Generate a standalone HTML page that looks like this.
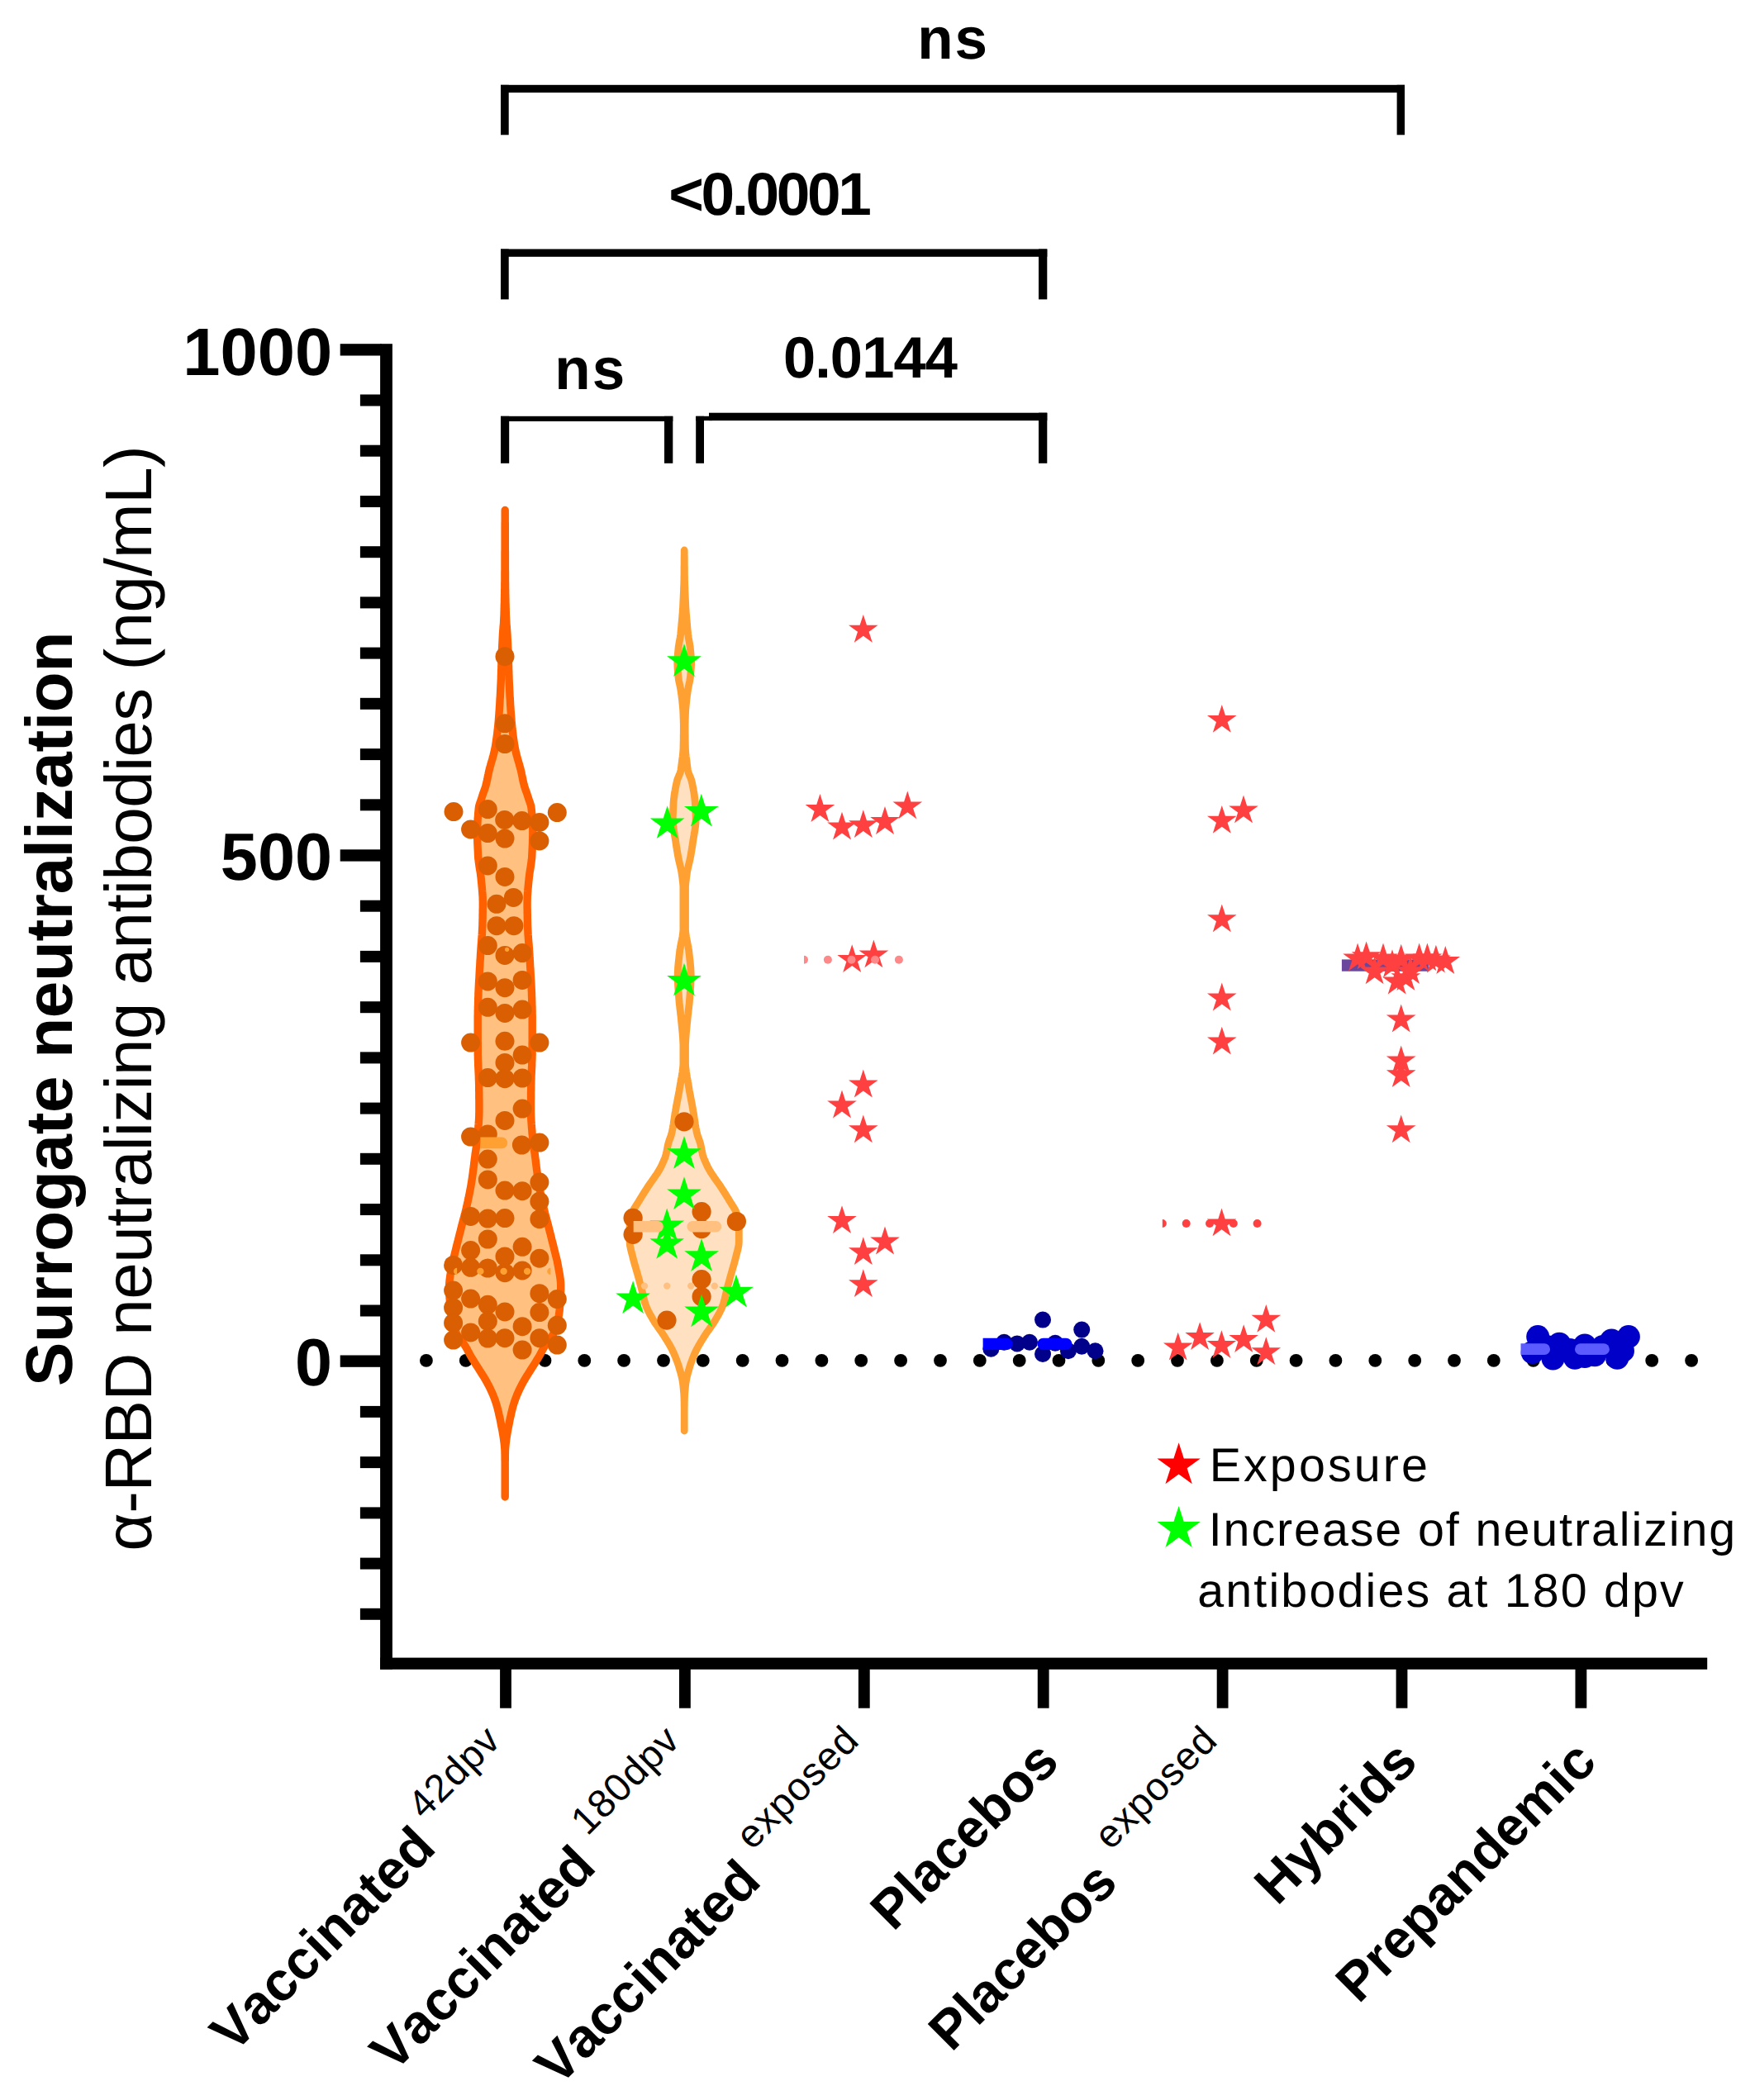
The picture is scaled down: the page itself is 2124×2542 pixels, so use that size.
<!DOCTYPE html>
<html lang="en"><head><meta charset="utf-8"><title>Surrogate neutralization</title>
<style>html,body{margin:0;padding:0;background:#fff;width:2124px;height:2542px;overflow:hidden}svg{display:block}text{font-family:"Liberation Sans", Arial, Helvetica, sans-serif;fill:#000;font-kerning:none;text-rendering:geometricPrecision}</style>
</head><body>
<svg width="2124" height="2542" viewBox="0 0 2124 2542">
<rect width="2124" height="2542" fill="#fff"/>
<circle cx="515.9" cy="1646.9" r="7.9" fill="#000"/>
<circle cx="563.8" cy="1646.9" r="7.9" fill="#000"/>
<circle cx="611.6" cy="1646.9" r="7.9" fill="#000"/>
<circle cx="659.5" cy="1646.9" r="7.9" fill="#000"/>
<circle cx="707.3" cy="1646.9" r="7.9" fill="#000"/>
<circle cx="755.1" cy="1646.9" r="7.9" fill="#000"/>
<circle cx="803.0" cy="1646.9" r="7.9" fill="#000"/>
<circle cx="850.8" cy="1646.9" r="7.9" fill="#000"/>
<circle cx="898.7" cy="1646.9" r="7.9" fill="#000"/>
<circle cx="946.5" cy="1646.9" r="7.9" fill="#000"/>
<circle cx="994.4" cy="1646.9" r="7.9" fill="#000"/>
<circle cx="1042.2" cy="1646.9" r="7.9" fill="#000"/>
<circle cx="1090.1" cy="1646.9" r="7.9" fill="#000"/>
<circle cx="1138.0" cy="1646.9" r="7.9" fill="#000"/>
<circle cx="1185.8" cy="1646.9" r="7.9" fill="#000"/>
<circle cx="1233.7" cy="1646.9" r="7.9" fill="#000"/>
<circle cx="1281.5" cy="1646.9" r="7.9" fill="#000"/>
<circle cx="1329.3" cy="1646.9" r="7.9" fill="#000"/>
<circle cx="1377.2" cy="1646.9" r="7.9" fill="#000"/>
<circle cx="1425.0" cy="1646.9" r="7.9" fill="#000"/>
<circle cx="1472.9" cy="1646.9" r="7.9" fill="#000"/>
<circle cx="1520.8" cy="1646.9" r="7.9" fill="#000"/>
<circle cx="1568.6" cy="1646.9" r="7.9" fill="#000"/>
<circle cx="1616.4" cy="1646.9" r="7.9" fill="#000"/>
<circle cx="1664.3" cy="1646.9" r="7.9" fill="#000"/>
<circle cx="1712.2" cy="1646.9" r="7.9" fill="#000"/>
<circle cx="1760.0" cy="1646.9" r="7.9" fill="#000"/>
<circle cx="1807.8" cy="1646.9" r="7.9" fill="#000"/>
<circle cx="1855.7" cy="1646.9" r="7.9" fill="#000"/>
<circle cx="1903.6" cy="1646.9" r="7.9" fill="#000"/>
<circle cx="1951.4" cy="1646.9" r="7.9" fill="#000"/>
<circle cx="1999.2" cy="1646.9" r="7.9" fill="#000"/>
<circle cx="2047.1" cy="1646.9" r="7.9" fill="#000"/>
<polygon points="611.2,617.5 611.2,619.5 611.2,621.5 611.2,623.5 611.2,625.5 611.2,627.6 611.2,629.6 611.2,631.6 611.1,633.6 611.1,635.6 611.1,637.6 611.1,639.6 611.1,641.6 611.1,643.7 611.1,645.7 611.1,647.7 611.1,649.7 611.1,651.7 611.1,653.7 611.1,655.7 611.1,657.7 611.1,659.8 611.1,661.8 611.1,663.8 611.1,665.8 611.0,667.8 611.0,669.8 611.0,671.8 611.0,673.8 611.0,675.9 611.0,677.9 611.0,679.9 611.0,681.9 611.0,683.9 611.0,685.9 611.0,687.9 611.0,689.9 610.9,692.0 610.9,694.0 610.9,696.0 610.9,698.0 610.9,700.0 610.9,702.0 610.9,704.1 610.8,706.1 610.8,708.2 610.8,710.2 610.8,712.3 610.7,714.3 610.7,716.4 610.7,718.4 610.6,720.5 610.6,722.5 610.5,724.5 610.5,726.6 610.5,728.6 610.4,730.7 610.3,732.7 610.3,734.8 610.2,736.8 610.2,738.9 610.1,740.9 610.1,743.0 610.0,745.0 609.9,747.0 609.8,749.0 609.7,751.0 609.6,753.0 609.5,755.0 609.3,757.0 609.1,759.0 609.0,761.0 608.8,763.0 608.7,765.0 608.5,767.0 608.4,769.0 608.3,771.0 608.2,773.0 608.1,775.0 608.0,777.0 607.9,779.0 607.8,781.0 607.7,783.0 607.6,785.0 607.5,787.0 607.4,789.0 607.4,791.0 607.3,793.0 607.2,795.0 607.1,797.0 607.1,799.0 607.0,801.0 606.9,803.0 606.9,805.0 606.8,807.0 606.8,809.0 606.7,811.0 606.6,813.0 606.6,815.0 606.5,817.0 606.4,819.0 606.4,821.0 606.3,823.0 606.2,825.1 606.1,827.2 606.0,829.2 605.9,831.3 605.8,833.4 605.7,835.5 605.6,837.5 605.5,839.6 605.4,841.7 605.3,843.8 605.1,845.8 605.0,847.9 604.9,850.0 604.8,852.0 604.7,854.0 604.5,856.0 604.4,858.0 604.3,860.0 604.1,862.0 604.0,864.0 603.8,866.0 603.7,868.0 603.5,870.0 603.4,872.0 603.2,874.0 603.0,876.0 602.8,878.1 602.6,880.1 602.4,882.2 602.1,884.3 601.9,886.4 601.7,888.4 601.4,890.5 601.1,892.6 600.8,894.6 600.5,896.7 600.2,898.8 599.9,900.9 599.6,902.9 599.2,905.0 598.8,907.0 598.4,909.0 597.9,911.0 597.4,913.0 596.9,915.0 596.3,917.0 595.8,919.0 595.2,921.0 594.6,923.0 594.0,925.0 593.5,927.0 592.9,929.0 592.4,931.0 591.9,933.0 591.4,935.1 591.0,937.2 590.5,939.4 590.1,941.5 589.7,943.6 589.2,945.8 588.7,947.9 588.2,950.0 587.6,952.1 586.9,954.3 586.2,956.4 585.4,958.6 584.6,960.7 583.9,962.9 583.2,965.0 582.5,967.3 581.7,969.5 580.9,971.8 580.2,974.1 579.6,976.3 579.3,978.6 579.1,980.6 578.9,982.7 578.7,984.7 578.6,986.7 578.4,988.7 578.2,990.8 578.1,992.8 578.0,994.8 577.9,996.9 577.8,998.9 577.7,1000.9 577.6,1002.9 577.6,1005.0 577.6,1007.0 577.6,1009.0 577.6,1011.1 577.7,1013.1 577.7,1015.2 577.8,1017.2 577.8,1019.3 577.9,1021.4 578.0,1023.4 578.1,1025.5 578.2,1027.5 578.3,1029.5 578.4,1031.6 578.5,1033.7 578.6,1035.7 578.7,1037.7 578.9,1039.8 579.2,1041.8 579.4,1043.9 579.7,1045.9 580.0,1048.0 580.3,1050.0 580.6,1052.0 581.0,1054.1 581.3,1056.1 581.6,1058.2 581.8,1060.2 582.1,1062.3 582.3,1064.3 582.5,1066.3 582.7,1068.4 582.9,1070.4 583.1,1072.5 583.3,1074.5 583.5,1076.6 583.6,1078.6 583.8,1080.6 583.9,1082.7 584.1,1084.7 584.2,1086.8 584.2,1088.8 584.3,1090.9 584.3,1092.9 584.3,1094.9 584.3,1097.0 584.3,1099.0 584.2,1101.0 584.2,1103.1 584.2,1105.1 584.1,1107.2 584.1,1109.2 584.1,1111.2 584.0,1113.3 584.0,1115.3 583.9,1117.3 583.9,1119.4 583.8,1121.4 583.7,1123.4 583.6,1125.5 583.5,1127.5 583.4,1129.6 583.3,1131.6 583.1,1133.7 583.0,1135.7 582.8,1137.7 582.7,1139.8 582.5,1141.8 582.3,1143.9 582.2,1145.9 582.0,1148.0 581.9,1150.0 581.8,1152.0 581.6,1154.1 581.5,1156.1 581.4,1158.2 581.3,1160.2 581.1,1162.3 581.0,1164.3 580.9,1166.3 580.8,1168.4 580.7,1170.4 580.5,1172.5 580.4,1174.5 580.3,1176.6 580.2,1178.6 580.1,1180.6 580.0,1182.7 579.9,1184.7 579.7,1186.7 579.6,1188.7 579.5,1190.8 579.4,1192.8 579.3,1194.8 579.2,1196.9 579.1,1198.9 579.0,1200.9 578.9,1202.9 578.9,1205.0 578.8,1207.0 578.7,1209.0 578.7,1211.1 578.6,1213.2 578.6,1215.2 578.5,1217.2 578.4,1219.3 578.4,1221.3 578.3,1223.4 578.3,1225.5 578.3,1227.5 578.2,1229.5 578.2,1231.6 578.2,1233.7 578.2,1235.7 578.2,1237.8 578.2,1239.8 578.2,1241.9 578.2,1244.0 578.2,1246.0 578.2,1248.1 578.2,1250.2 578.2,1252.2 578.2,1254.3 578.2,1256.4 578.2,1258.4 578.2,1260.5 578.3,1262.6 578.3,1264.6 578.3,1266.7 578.3,1268.8 578.3,1270.8 578.3,1272.9 578.3,1274.9 578.3,1277.0 578.4,1279.0 578.4,1281.1 578.5,1283.1 578.6,1285.1 578.7,1287.2 578.7,1289.2 578.8,1291.2 578.9,1293.3 579.0,1295.3 579.1,1297.4 579.2,1299.4 579.3,1301.4 579.4,1303.5 579.4,1305.5 579.5,1307.5 579.6,1309.6 579.6,1311.6 579.7,1313.7 579.7,1315.7 579.7,1317.7 579.7,1319.8 579.8,1321.8 579.8,1323.9 579.8,1325.9 579.8,1328.0 579.8,1330.0 579.9,1332.0 579.9,1334.1 579.9,1336.1 579.9,1338.2 579.9,1340.2 579.9,1342.3 579.9,1344.3 579.9,1346.3 579.8,1348.4 579.8,1350.4 579.7,1352.5 579.6,1354.5 579.5,1356.6 579.3,1358.6 579.2,1360.6 579.0,1362.7 578.9,1364.7 578.7,1366.8 578.5,1368.8 578.4,1370.9 578.2,1372.9 578.0,1374.9 577.8,1377.0 577.6,1379.0 577.4,1381.0 577.1,1383.1 576.8,1385.1 576.6,1387.2 576.3,1389.2 576.0,1391.2 575.7,1393.3 575.4,1395.3 575.1,1397.3 574.9,1399.4 574.6,1401.4 574.3,1403.4 574.1,1405.5 573.8,1407.5 573.6,1409.6 573.3,1411.6 573.1,1413.7 572.8,1415.7 572.5,1417.7 572.3,1419.8 572.0,1421.8 571.7,1423.9 571.4,1425.9 571.1,1428.0 570.8,1430.0 570.5,1432.0 570.1,1434.1 569.8,1436.1 569.4,1438.2 569.0,1440.2 568.6,1442.3 568.2,1444.3 567.8,1446.3 567.4,1448.4 567.0,1450.4 566.5,1452.5 566.1,1454.5 565.6,1456.6 565.2,1458.6 564.7,1460.6 564.3,1462.7 563.8,1464.7 563.3,1466.7 562.8,1468.7 562.2,1470.8 561.7,1472.8 561.2,1474.8 560.6,1476.9 560.1,1478.9 559.6,1480.9 559.0,1482.9 558.5,1485.0 558.0,1487.0 557.5,1489.0 557.0,1491.1 556.4,1493.2 555.9,1495.2 555.4,1497.2 554.9,1499.3 554.4,1501.3 553.9,1503.4 553.3,1505.5 552.8,1507.5 552.3,1509.5 551.8,1511.6 551.3,1513.7 550.8,1515.7 550.3,1517.7 549.8,1519.8 549.2,1521.8 548.7,1523.9 548.2,1525.9 547.8,1528.0 547.4,1530.0 547.0,1532.1 546.6,1534.2 546.3,1536.2 545.9,1538.3 545.5,1540.4 545.1,1542.5 544.8,1544.5 544.5,1546.6 544.2,1548.7 544.0,1550.8 543.8,1552.8 543.7,1554.9 543.7,1557.0 543.7,1559.0 543.7,1561.1 543.8,1563.2 543.9,1565.2 543.9,1567.2 544.0,1569.3 544.1,1571.3 544.3,1573.4 544.4,1575.5 544.5,1577.5 544.7,1579.5 544.9,1581.6 545.0,1583.7 545.2,1585.7 545.4,1587.7 545.7,1589.8 546.0,1591.8 546.4,1593.9 546.8,1595.9 547.3,1598.0 547.9,1600.0 548.4,1602.0 549.1,1604.1 549.7,1606.1 550.4,1608.2 551.1,1610.2 551.8,1612.3 552.6,1614.3 553.6,1616.3 554.9,1618.4 556.4,1620.4 558.0,1622.5 559.6,1624.5 561.2,1626.6 562.6,1628.6 563.8,1630.6 565.0,1632.7 566.1,1634.7 567.1,1636.8 568.2,1638.8 569.3,1640.9 570.5,1642.9 571.7,1644.9 573.0,1646.9 574.2,1648.9 575.5,1651.0 576.8,1653.0 578.1,1655.0 579.4,1657.0 580.7,1659.1 582.0,1661.1 583.3,1663.2 584.6,1665.2 585.9,1667.3 587.1,1669.3 588.3,1671.4 589.4,1673.4 590.5,1675.5 591.6,1677.5 592.6,1679.6 593.6,1681.6 594.6,1683.7 595.5,1685.7 596.4,1687.7 597.2,1689.8 598.0,1691.8 598.8,1693.9 599.5,1695.9 600.2,1698.0 600.8,1700.0 601.4,1702.0 602.0,1704.1 602.5,1706.1 603.0,1708.2 603.5,1710.2 603.9,1712.3 604.4,1714.3 604.9,1716.3 605.3,1718.4 605.7,1720.4 606.1,1722.5 606.5,1724.5 606.9,1726.6 607.3,1728.6 607.7,1730.6 608.1,1732.7 608.4,1734.7 608.8,1736.8 609.1,1738.8 609.4,1740.9 609.7,1742.9 609.9,1744.9 610.2,1746.9 610.4,1748.9 610.6,1751.0 610.8,1753.0 610.9,1755.0 611.0,1757.0 611.0,1759.1 611.1,1761.2 611.1,1763.3 611.1,1765.4 611.1,1767.5 611.2,1769.5 611.2,1771.6 611.2,1773.7 611.2,1775.8 611.2,1777.9 611.2,1780.0 611.2,1782.0 611.2,1784.0 611.2,1786.0 611.2,1788.0 611.2,1790.0 611.2,1792.0 611.2,1794.0 611.2,1796.0 611.2,1798.0 611.2,1800.0 611.2,1802.0 611.2,1804.0 611.2,1806.0 611.2,1808.0 611.2,1810.0 611.2,1812.0 611.2,1812.0 611.2,1810.0 611.2,1808.0 611.2,1806.0 611.2,1804.0 611.2,1802.0 611.2,1800.0 611.2,1798.0 611.2,1796.0 611.2,1794.0 611.2,1792.0 611.2,1790.0 611.2,1788.0 611.2,1786.0 611.2,1784.0 611.2,1782.0 611.2,1780.0 611.2,1777.9 611.2,1775.8 611.2,1773.7 611.2,1771.6 611.2,1769.5 611.3,1767.5 611.3,1765.4 611.3,1763.3 611.3,1761.2 611.4,1759.1 611.4,1757.0 611.5,1755.0 611.6,1753.0 611.8,1751.0 612.0,1748.9 612.2,1746.9 612.5,1744.9 612.7,1742.9 613.0,1740.9 613.3,1738.8 613.6,1736.8 614.0,1734.7 614.3,1732.7 614.7,1730.6 615.1,1728.6 615.5,1726.6 615.9,1724.5 616.3,1722.5 616.7,1720.4 617.1,1718.4 617.5,1716.3 618.0,1714.3 618.5,1712.3 618.9,1710.2 619.4,1708.2 619.9,1706.1 620.4,1704.1 621.0,1702.0 621.6,1700.0 622.2,1698.0 622.9,1695.9 623.6,1693.9 624.4,1691.8 625.2,1689.8 626.0,1687.7 626.9,1685.7 627.8,1683.7 628.8,1681.6 629.8,1679.6 630.8,1677.5 631.9,1675.5 633.0,1673.4 634.1,1671.4 635.3,1669.3 636.5,1667.3 637.8,1665.2 639.1,1663.2 640.4,1661.1 641.7,1659.1 643.0,1657.0 644.3,1655.0 645.6,1653.0 646.9,1651.0 648.2,1648.9 649.4,1646.9 650.7,1644.9 651.9,1642.9 653.1,1640.9 654.2,1638.8 655.3,1636.8 656.3,1634.7 657.4,1632.7 658.6,1630.6 659.8,1628.6 661.2,1626.6 662.8,1624.5 664.4,1622.5 666.0,1620.4 667.5,1618.4 668.8,1616.3 669.8,1614.3 670.6,1612.3 671.3,1610.2 672.0,1608.2 672.7,1606.1 673.3,1604.1 674.0,1602.0 674.5,1600.0 675.1,1598.0 675.6,1595.9 676.0,1593.9 676.4,1591.8 676.7,1589.8 677.0,1587.7 677.2,1585.7 677.4,1583.7 677.5,1581.6 677.7,1579.5 677.9,1577.5 678.0,1575.5 678.1,1573.4 678.3,1571.3 678.4,1569.3 678.5,1567.2 678.5,1565.2 678.6,1563.2 678.7,1561.1 678.7,1559.0 678.7,1557.0 678.7,1554.9 678.6,1552.8 678.4,1550.8 678.2,1548.7 677.9,1546.6 677.6,1544.5 677.3,1542.5 676.9,1540.4 676.5,1538.3 676.1,1536.2 675.8,1534.2 675.4,1532.1 675.0,1530.0 674.6,1528.0 674.2,1525.9 673.7,1523.9 673.2,1521.8 672.6,1519.8 672.1,1517.7 671.6,1515.7 671.1,1513.7 670.6,1511.6 670.1,1509.5 669.6,1507.5 669.1,1505.5 668.5,1503.4 668.0,1501.3 667.5,1499.3 667.0,1497.2 666.5,1495.2 666.0,1493.2 665.4,1491.1 664.9,1489.0 664.4,1487.0 663.9,1485.0 663.4,1482.9 662.8,1480.9 662.3,1478.9 661.8,1476.9 661.2,1474.8 660.7,1472.8 660.2,1470.8 659.6,1468.7 659.1,1466.7 658.6,1464.7 658.1,1462.7 657.7,1460.6 657.2,1458.6 656.8,1456.6 656.3,1454.5 655.9,1452.5 655.4,1450.4 655.0,1448.4 654.6,1446.3 654.2,1444.3 653.8,1442.3 653.4,1440.2 653.0,1438.2 652.6,1436.1 652.3,1434.1 651.9,1432.0 651.6,1430.0 651.3,1428.0 651.0,1425.9 650.7,1423.9 650.4,1421.8 650.1,1419.8 649.9,1417.7 649.6,1415.7 649.3,1413.7 649.1,1411.6 648.8,1409.6 648.6,1407.5 648.3,1405.5 648.1,1403.4 647.8,1401.4 647.5,1399.4 647.3,1397.3 647.0,1395.3 646.7,1393.3 646.4,1391.2 646.1,1389.2 645.8,1387.2 645.6,1385.1 645.3,1383.1 645.0,1381.0 644.8,1379.0 644.6,1377.0 644.4,1374.9 644.2,1372.9 644.0,1370.9 643.9,1368.8 643.7,1366.8 643.5,1364.7 643.4,1362.7 643.2,1360.6 643.1,1358.6 642.9,1356.6 642.8,1354.5 642.7,1352.5 642.6,1350.4 642.6,1348.4 642.5,1346.3 642.5,1344.3 642.5,1342.3 642.5,1340.2 642.5,1338.2 642.5,1336.1 642.5,1334.1 642.5,1332.0 642.6,1330.0 642.6,1328.0 642.6,1325.9 642.6,1323.9 642.6,1321.8 642.7,1319.8 642.7,1317.7 642.7,1315.7 642.7,1313.7 642.8,1311.6 642.8,1309.6 642.9,1307.5 643.0,1305.5 643.0,1303.5 643.1,1301.4 643.2,1299.4 643.3,1297.4 643.4,1295.3 643.5,1293.3 643.6,1291.2 643.7,1289.2 643.7,1287.2 643.8,1285.1 643.9,1283.1 644.0,1281.1 644.0,1279.0 644.1,1277.0 644.1,1274.9 644.1,1272.9 644.1,1270.8 644.1,1268.8 644.1,1266.7 644.1,1264.6 644.1,1262.6 644.2,1260.5 644.2,1258.4 644.2,1256.4 644.2,1254.3 644.2,1252.2 644.2,1250.2 644.2,1248.1 644.2,1246.0 644.2,1244.0 644.2,1241.9 644.2,1239.8 644.2,1237.8 644.2,1235.7 644.2,1233.7 644.2,1231.6 644.2,1229.5 644.1,1227.5 644.1,1225.5 644.1,1223.4 644.0,1221.3 644.0,1219.3 643.9,1217.2 643.8,1215.2 643.8,1213.2 643.7,1211.1 643.7,1209.0 643.6,1207.0 643.5,1205.0 643.5,1202.9 643.4,1200.9 643.3,1198.9 643.2,1196.9 643.1,1194.8 643.0,1192.8 642.9,1190.8 642.8,1188.7 642.7,1186.7 642.5,1184.7 642.4,1182.7 642.3,1180.6 642.2,1178.6 642.1,1176.6 642.0,1174.5 641.9,1172.5 641.7,1170.4 641.6,1168.4 641.5,1166.3 641.4,1164.3 641.3,1162.3 641.1,1160.2 641.0,1158.2 640.9,1156.1 640.8,1154.1 640.6,1152.0 640.5,1150.0 640.4,1148.0 640.2,1145.9 640.1,1143.9 639.9,1141.8 639.7,1139.8 639.6,1137.7 639.4,1135.7 639.3,1133.7 639.1,1131.6 639.0,1129.6 638.9,1127.5 638.8,1125.5 638.7,1123.4 638.6,1121.4 638.5,1119.4 638.5,1117.3 638.4,1115.3 638.4,1113.3 638.3,1111.2 638.3,1109.2 638.3,1107.2 638.2,1105.1 638.2,1103.1 638.2,1101.0 638.1,1099.0 638.1,1097.0 638.1,1094.9 638.1,1092.9 638.1,1090.9 638.2,1088.8 638.2,1086.8 638.3,1084.7 638.5,1082.7 638.6,1080.6 638.8,1078.6 638.9,1076.6 639.1,1074.5 639.3,1072.5 639.5,1070.4 639.7,1068.4 639.9,1066.3 640.1,1064.3 640.3,1062.3 640.6,1060.2 640.8,1058.2 641.1,1056.1 641.4,1054.1 641.8,1052.0 642.1,1050.0 642.4,1048.0 642.7,1045.9 643.0,1043.9 643.2,1041.8 643.5,1039.8 643.7,1037.7 643.8,1035.7 643.9,1033.7 644.0,1031.6 644.1,1029.5 644.2,1027.5 644.3,1025.5 644.4,1023.4 644.5,1021.4 644.6,1019.3 644.6,1017.2 644.7,1015.2 644.7,1013.1 644.8,1011.1 644.8,1009.0 644.8,1007.0 644.8,1005.0 644.8,1002.9 644.7,1000.9 644.6,998.9 644.5,996.9 644.4,994.8 644.3,992.8 644.2,990.8 644.0,988.7 643.8,986.7 643.7,984.7 643.5,982.7 643.3,980.6 643.1,978.6 642.8,976.3 642.2,974.1 641.5,971.8 640.7,969.5 639.9,967.3 639.2,965.0 638.5,962.9 637.8,960.7 637.0,958.6 636.2,956.4 635.5,954.3 634.8,952.1 634.2,950.0 633.7,947.9 633.2,945.8 632.7,943.6 632.3,941.5 631.9,939.4 631.4,937.2 631.0,935.1 630.5,933.0 630.0,931.0 629.5,929.0 628.9,927.0 628.4,925.0 627.8,923.0 627.2,921.0 626.6,919.0 626.1,917.0 625.5,915.0 625.0,913.0 624.5,911.0 624.0,909.0 623.6,907.0 623.2,905.0 622.8,902.9 622.5,900.9 622.2,898.8 621.9,896.7 621.6,894.6 621.3,892.6 621.0,890.5 620.7,888.4 620.5,886.4 620.3,884.3 620.0,882.2 619.8,880.1 619.6,878.1 619.4,876.0 619.2,874.0 619.0,872.0 618.9,870.0 618.7,868.0 618.6,866.0 618.4,864.0 618.3,862.0 618.1,860.0 618.0,858.0 617.9,856.0 617.7,854.0 617.6,852.0 617.5,850.0 617.4,847.9 617.3,845.8 617.1,843.8 617.0,841.7 616.9,839.6 616.8,837.5 616.7,835.5 616.6,833.4 616.5,831.3 616.4,829.2 616.3,827.2 616.2,825.1 616.1,823.0 616.0,821.0 616.0,819.0 615.9,817.0 615.8,815.0 615.8,813.0 615.7,811.0 615.6,809.0 615.6,807.0 615.5,805.0 615.5,803.0 615.4,801.0 615.3,799.0 615.3,797.0 615.2,795.0 615.1,793.0 615.0,791.0 615.0,789.0 614.9,787.0 614.8,785.0 614.7,783.0 614.6,781.0 614.5,779.0 614.4,777.0 614.3,775.0 614.2,773.0 614.1,771.0 614.0,769.0 613.9,767.0 613.7,765.0 613.6,763.0 613.4,761.0 613.3,759.0 613.1,757.0 612.9,755.0 612.8,753.0 612.7,751.0 612.6,749.0 612.5,747.0 612.4,745.0 612.3,743.0 612.3,740.9 612.2,738.9 612.2,736.8 612.1,734.8 612.1,732.7 612.0,730.7 611.9,728.6 611.9,726.6 611.9,724.5 611.8,722.5 611.8,720.5 611.7,718.4 611.7,716.4 611.7,714.3 611.6,712.3 611.6,710.2 611.6,708.2 611.6,706.1 611.5,704.1 611.5,702.0 611.5,700.0 611.5,698.0 611.5,696.0 611.5,694.0 611.5,692.0 611.4,689.9 611.4,687.9 611.4,685.9 611.4,683.9 611.4,681.9 611.4,679.9 611.4,677.9 611.4,675.9 611.4,673.8 611.4,671.8 611.4,669.8 611.4,667.8 611.3,665.8 611.3,663.8 611.3,661.8 611.3,659.8 611.3,657.7 611.3,655.7 611.3,653.7 611.3,651.7 611.3,649.7 611.3,647.7 611.3,645.7 611.3,643.7 611.3,641.6 611.3,639.6 611.3,637.6 611.3,635.6 611.3,633.6 611.2,631.6 611.2,629.6 611.2,627.6 611.2,625.5 611.2,623.5 611.2,621.5 611.2,619.5 611.2,617.5" fill="#FFC080" stroke="#FF6000" stroke-width="9.4" stroke-linejoin="round" stroke-linecap="round"/>
<circle cx="611.0" cy="794.7" r="11.5" fill="#D95F02"/>
<circle cx="611.0" cy="875.8" r="11.5" fill="#D95F02"/>
<circle cx="611.0" cy="900.6" r="11.5" fill="#D95F02"/>
<circle cx="549.0" cy="982.6" r="11.5" fill="#D95F02"/>
<circle cx="590.3" cy="979.6" r="11.5" fill="#D95F02"/>
<circle cx="674.3" cy="983.6" r="11.5" fill="#D95F02"/>
<circle cx="610.7" cy="992.4" r="11.5" fill="#D95F02"/>
<circle cx="631.7" cy="993.6" r="11.5" fill="#D95F02"/>
<circle cx="652.9" cy="995.4" r="11.5" fill="#D95F02"/>
<circle cx="569.6" cy="1003.9" r="11.5" fill="#D95F02"/>
<circle cx="590.3" cy="1008.6" r="11.5" fill="#D95F02"/>
<circle cx="611.0" cy="1015.0" r="11.5" fill="#D95F02"/>
<circle cx="652.9" cy="1017.9" r="11.5" fill="#D95F02"/>
<circle cx="590.3" cy="1047.9" r="11.5" fill="#D95F02"/>
<circle cx="611.0" cy="1061.4" r="11.5" fill="#D95F02"/>
<circle cx="621.4" cy="1086.4" r="11.5" fill="#D95F02"/>
<circle cx="601.0" cy="1094.3" r="11.5" fill="#D95F02"/>
<circle cx="601.0" cy="1120.7" r="11.5" fill="#D95F02"/>
<circle cx="621.9" cy="1120.7" r="11.5" fill="#D95F02"/>
<circle cx="590.3" cy="1144.6" r="11.5" fill="#D95F02"/>
<circle cx="611.0" cy="1156.4" r="11.5" fill="#D95F02"/>
<circle cx="632.1" cy="1153.6" r="11.5" fill="#D95F02"/>
<circle cx="590.3" cy="1187.9" r="11.5" fill="#D95F02"/>
<circle cx="611.0" cy="1195.7" r="11.5" fill="#D95F02"/>
<circle cx="632.1" cy="1186.4" r="11.5" fill="#D95F02"/>
<circle cx="590.3" cy="1219.3" r="11.5" fill="#D95F02"/>
<circle cx="611.0" cy="1226.4" r="11.5" fill="#D95F02"/>
<circle cx="632.1" cy="1222.1" r="11.5" fill="#D95F02"/>
<circle cx="569.6" cy="1262.1" r="11.5" fill="#D95F02"/>
<circle cx="611.0" cy="1260.3" r="11.5" fill="#D95F02"/>
<circle cx="652.9" cy="1262.1" r="11.5" fill="#D95F02"/>
<circle cx="632.1" cy="1277.1" r="11.5" fill="#D95F02"/>
<circle cx="611.0" cy="1286.4" r="11.5" fill="#D95F02"/>
<circle cx="590.3" cy="1304.6" r="11.5" fill="#D95F02"/>
<circle cx="611.0" cy="1305.7" r="11.5" fill="#D95F02"/>
<circle cx="632.1" cy="1305.0" r="11.5" fill="#D95F02"/>
<circle cx="632.1" cy="1342.1" r="11.5" fill="#D95F02"/>
<circle cx="611.0" cy="1356.4" r="11.5" fill="#D95F02"/>
<circle cx="569.6" cy="1376.0" r="11.5" fill="#D95F02"/>
<circle cx="590.3" cy="1372.9" r="11.5" fill="#D95F02"/>
<circle cx="631.4" cy="1386.0" r="11.5" fill="#D95F02"/>
<circle cx="652.9" cy="1383.1" r="11.5" fill="#D95F02"/>
<circle cx="590.3" cy="1403.1" r="11.5" fill="#D95F02"/>
<circle cx="590.3" cy="1427.9" r="11.5" fill="#D95F02"/>
<circle cx="611.0" cy="1441.1" r="11.5" fill="#D95F02"/>
<circle cx="632.1" cy="1441.7" r="11.5" fill="#D95F02"/>
<circle cx="652.9" cy="1431.1" r="11.5" fill="#D95F02"/>
<circle cx="652.9" cy="1454.3" r="11.5" fill="#D95F02"/>
<circle cx="569.6" cy="1472.4" r="11.5" fill="#D95F02"/>
<circle cx="590.3" cy="1475.0" r="11.5" fill="#D95F02"/>
<circle cx="611.0" cy="1474.6" r="11.5" fill="#D95F02"/>
<circle cx="652.9" cy="1475.7" r="11.5" fill="#D95F02"/>
<circle cx="590.3" cy="1500.0" r="11.5" fill="#D95F02"/>
<circle cx="569.6" cy="1513.6" r="11.5" fill="#D95F02"/>
<circle cx="632.1" cy="1509.3" r="11.5" fill="#D95F02"/>
<circle cx="611.0" cy="1521.0" r="11.5" fill="#D95F02"/>
<circle cx="652.9" cy="1523.2" r="11.5" fill="#D95F02"/>
<circle cx="548.6" cy="1531.4" r="11.5" fill="#D95F02"/>
<circle cx="569.6" cy="1534.3" r="11.5" fill="#D95F02"/>
<circle cx="590.3" cy="1535.0" r="11.5" fill="#D95F02"/>
<circle cx="611.0" cy="1540.7" r="11.5" fill="#D95F02"/>
<circle cx="632.1" cy="1537.9" r="11.5" fill="#D95F02"/>
<circle cx="548.6" cy="1562.1" r="11.5" fill="#D95F02"/>
<circle cx="652.9" cy="1565.7" r="11.5" fill="#D95F02"/>
<circle cx="569.6" cy="1572.1" r="11.5" fill="#D95F02"/>
<circle cx="674.3" cy="1572.6" r="11.5" fill="#D95F02"/>
<circle cx="590.3" cy="1579.3" r="11.5" fill="#D95F02"/>
<circle cx="548.6" cy="1582.9" r="11.5" fill="#D95F02"/>
<circle cx="611.0" cy="1587.9" r="11.5" fill="#D95F02"/>
<circle cx="652.9" cy="1588.6" r="11.5" fill="#D95F02"/>
<circle cx="590.3" cy="1599.3" r="11.5" fill="#D95F02"/>
<circle cx="548.6" cy="1601.4" r="11.5" fill="#D95F02"/>
<circle cx="632.1" cy="1605.7" r="11.5" fill="#D95F02"/>
<circle cx="674.3" cy="1604.3" r="11.5" fill="#D95F02"/>
<circle cx="569.6" cy="1612.9" r="11.5" fill="#D95F02"/>
<circle cx="590.3" cy="1620.0" r="11.5" fill="#D95F02"/>
<circle cx="611.0" cy="1619.7" r="11.5" fill="#D95F02"/>
<circle cx="652.9" cy="1619.7" r="11.5" fill="#D95F02"/>
<circle cx="548.6" cy="1622.1" r="11.5" fill="#D95F02"/>
<circle cx="674.3" cy="1628.1" r="11.5" fill="#D95F02"/>
<circle cx="632.1" cy="1634.0" r="11.5" fill="#D95F02"/>
<path d="M581.4 1376.4 H608 A7 7 0 0 1 608 1390.3 H581.4 Z" fill="#FFA033"/>
<circle cx="581.4" cy="1538.9" r="4.2" fill="#FFA033"/>
<circle cx="609.6" cy="1538.9" r="4.2" fill="#FFA033"/>
<circle cx="638.1" cy="1538.9" r="4.2" fill="#FFA033"/>
<path d="M553.1 1534.7 A4.2 4.2 0 0 0 553.1 1543.1 Z" fill="#FFA033"/>
<path d="M666.4 1534.7 A4.2 4.2 0 0 0 666.4 1543.1 Z" fill="#FFA033"/>
<circle cx="613.6" cy="1149.3" r="2.6" fill="#FFA033"/>
<polygon points="828.2,666.0 828.2,668.0 828.2,670.0 828.2,672.0 828.1,674.0 828.1,676.0 828.1,678.0 828.1,680.0 828.1,682.0 828.1,684.0 828.0,686.0 828.0,688.0 828.0,690.0 828.0,692.0 828.0,694.0 828.0,696.0 827.9,698.0 827.9,700.0 827.9,702.1 827.8,704.2 827.8,706.2 827.7,708.3 827.6,710.4 827.5,712.5 827.5,714.6 827.4,716.7 827.3,718.8 827.2,720.8 827.1,722.9 827.0,725.0 826.9,727.1 826.8,729.3 826.7,731.4 826.6,733.6 826.5,735.7 826.3,737.9 826.2,740.0 826.1,742.0 825.9,744.0 825.7,746.0 825.6,748.0 825.4,750.0 825.2,752.0 825.0,754.0 824.8,756.0 824.7,758.0 824.5,760.0 824.3,762.0 824.1,764.0 823.9,766.0 823.7,768.0 823.4,770.1 823.1,772.2 822.7,774.4 822.3,776.5 821.9,778.6 821.6,780.8 821.2,782.9 821.0,785.0 820.8,787.1 820.6,789.2 820.4,791.4 820.2,793.5 820.0,795.6 819.9,797.8 819.8,799.9 819.8,802.0 819.8,804.0 819.9,806.0 820.0,808.0 820.1,810.0 820.3,812.0 820.4,814.0 820.6,816.0 820.8,818.0 821.0,820.0 821.3,822.0 821.6,824.0 822.0,826.0 822.5,828.0 822.9,830.0 823.3,832.0 823.7,834.0 824.0,836.0 824.3,838.0 824.6,840.0 824.9,842.0 825.1,844.0 825.4,846.0 825.6,848.0 825.8,850.0 826.0,852.0 826.2,854.0 826.4,856.0 826.6,858.0 826.7,860.0 826.8,862.0 826.9,864.0 827.0,866.0 827.0,868.0 827.1,870.0 827.2,872.0 827.2,874.0 827.3,876.0 827.3,878.0 827.3,880.0 827.3,882.1 827.3,884.2 827.3,886.2 827.3,888.3 827.2,890.4 827.2,892.5 827.2,894.6 827.2,896.7 827.1,898.8 827.1,900.8 827.0,902.9 827.0,905.0 826.9,907.1 826.8,909.2 826.6,911.3 826.4,913.4 826.2,915.5 825.9,917.6 825.6,919.7 825.3,921.8 825.1,923.9 824.8,926.0 824.6,928.0 824.3,930.0 824.0,932.0 823.6,934.0 822.9,936.2 822.0,938.4 821.0,940.6 820.1,942.8 819.4,945.0 819.0,947.0 818.5,949.0 818.1,951.0 817.7,953.0 817.3,955.0 817.0,957.0 816.6,959.0 816.3,961.0 816.0,963.0 815.8,965.0 815.5,967.0 815.3,969.0 815.1,971.0 815.0,973.0 814.9,975.1 814.8,977.2 814.7,979.3 814.6,981.4 814.5,983.6 814.4,985.7 814.3,987.8 814.3,989.9 814.3,992.0 814.3,994.1 814.4,996.2 814.6,998.2 814.8,1000.3 815.1,1002.4 815.4,1004.5 815.7,1006.5 816.1,1008.6 816.4,1010.7 816.8,1012.8 817.1,1014.8 817.5,1016.9 817.8,1019.0 818.1,1021.1 818.4,1023.2 818.7,1025.3 819.1,1027.4 819.4,1029.6 819.8,1031.7 820.1,1033.8 820.5,1035.9 820.9,1038.0 821.3,1040.1 821.8,1042.2 822.3,1044.3 822.8,1046.4 823.3,1048.6 823.8,1050.7 824.3,1052.8 824.7,1054.9 825.0,1057.0 825.3,1059.1 825.6,1061.2 825.9,1063.3 826.1,1065.4 826.4,1067.6 826.6,1069.7 826.8,1071.8 826.9,1073.9 826.9,1076.0 826.9,1078.0 826.9,1080.0 826.9,1082.0 826.9,1084.0 826.9,1086.0 826.9,1088.0 826.9,1090.0 826.9,1092.0 826.9,1094.0 826.9,1096.0 826.9,1098.0 826.9,1100.0 826.9,1102.0 826.9,1104.0 826.9,1106.0 826.9,1108.0 826.9,1110.0 826.9,1112.0 826.9,1114.0 826.9,1116.0 826.9,1118.0 826.9,1120.0 826.9,1122.0 826.9,1124.0 826.9,1126.0 826.7,1128.0 826.5,1130.0 826.2,1132.0 825.9,1134.0 825.5,1136.0 825.1,1138.0 824.7,1140.0 824.3,1142.0 823.9,1144.0 823.5,1146.0 823.2,1148.0 822.8,1150.0 822.6,1152.0 822.4,1154.1 822.1,1156.1 821.9,1158.2 821.7,1160.3 821.4,1162.4 821.2,1164.4 821.0,1166.5 820.8,1168.6 820.6,1170.6 820.5,1172.7 820.4,1174.8 820.3,1176.9 820.2,1178.9 820.2,1181.0 820.2,1183.0 820.3,1185.1 820.3,1187.1 820.4,1189.1 820.5,1191.2 820.6,1193.2 820.7,1195.2 820.9,1197.3 821.0,1199.3 821.2,1201.4 821.3,1203.4 821.5,1205.4 821.6,1207.5 821.8,1209.5 822.0,1211.5 822.1,1213.6 822.3,1215.6 822.6,1217.6 822.8,1219.7 823.0,1221.7 823.3,1223.8 823.5,1225.8 823.7,1227.8 824.0,1229.9 824.2,1231.9 824.4,1233.9 824.6,1236.0 824.8,1238.0 825.0,1240.1 825.2,1242.1 825.4,1244.2 825.6,1246.3 825.8,1248.4 826.0,1250.4 826.2,1252.5 826.3,1254.6 826.5,1256.6 826.6,1258.7 826.7,1260.8 826.8,1262.9 826.9,1264.9 826.9,1267.0 826.9,1269.1 826.9,1271.2 826.9,1273.3 826.9,1275.4 826.9,1277.6 826.9,1279.7 826.9,1281.8 826.9,1283.9 826.9,1286.0 826.9,1288.0 826.8,1290.0 826.6,1292.0 826.4,1294.0 826.1,1296.0 825.9,1298.0 825.5,1300.0 825.2,1302.0 824.9,1304.0 824.5,1306.0 824.1,1308.0 823.8,1310.0 823.4,1312.0 823.1,1314.0 822.8,1316.1 822.4,1318.1 822.1,1320.2 821.7,1322.3 821.3,1324.4 820.9,1326.4 820.5,1328.5 820.1,1330.6 819.7,1332.6 819.3,1334.7 818.9,1336.8 818.5,1338.9 818.2,1340.9 817.8,1343.0 817.5,1345.0 817.1,1347.0 816.8,1349.0 816.5,1351.0 816.2,1353.0 815.9,1355.0 815.6,1357.0 815.3,1359.0 815.0,1361.0 814.6,1363.0 814.3,1365.0 813.9,1367.0 813.5,1369.0 813.1,1371.0 812.6,1373.0 812.0,1375.0 811.3,1377.0 810.5,1379.0 809.8,1381.0 809.2,1383.0 808.6,1385.0 808.1,1387.2 807.7,1389.3 807.3,1391.5 806.9,1393.7 806.4,1395.8 805.9,1398.0 805.3,1400.0 804.6,1402.0 803.7,1404.0 802.9,1406.0 802.0,1408.0 801.0,1410.2 799.9,1412.5 798.7,1414.8 797.4,1417.0 796.1,1419.1 794.8,1421.2 793.3,1423.3 791.9,1425.4 790.4,1427.6 788.9,1429.7 787.4,1431.8 785.9,1433.9 784.5,1436.0 783.1,1438.1 781.8,1440.2 780.4,1442.3 779.1,1444.4 777.7,1446.6 776.4,1448.7 775.1,1450.8 773.9,1452.9 772.6,1455.0 771.2,1457.3 769.7,1459.5 768.3,1461.8 766.9,1464.1 765.8,1466.3 765.0,1468.6 764.4,1470.8 763.8,1472.9 763.3,1475.1 762.8,1477.3 762.4,1479.5 762.2,1481.6 762.1,1483.8 762.1,1485.9 762.1,1488.0 762.1,1490.2 762.1,1492.3 762.1,1494.4 762.1,1496.5 762.1,1498.7 762.1,1500.8 762.1,1502.9 762.2,1505.0 762.4,1507.1 762.8,1509.2 763.2,1511.3 763.7,1513.5 764.3,1515.6 764.8,1517.7 765.4,1519.8 765.9,1521.9 766.4,1524.0 767.0,1526.1 767.5,1528.3 768.1,1530.4 768.8,1532.5 769.4,1534.6 770.0,1536.8 770.6,1538.9 771.2,1541.0 771.8,1543.1 772.4,1545.2 773.0,1547.3 773.5,1549.4 774.1,1551.6 774.7,1553.7 775.3,1555.8 775.8,1557.9 776.4,1560.0 776.9,1562.1 777.4,1564.2 777.9,1566.3 778.4,1568.4 778.9,1570.6 779.4,1572.7 779.9,1574.8 780.5,1576.9 781.2,1579.0 782.0,1581.1 782.8,1583.2 783.8,1585.3 784.8,1587.4 785.9,1589.6 787.1,1591.7 788.3,1593.8 789.5,1595.9 790.7,1598.0 792.0,1600.1 793.3,1602.2 794.8,1604.3 796.3,1606.4 797.8,1608.6 799.3,1610.7 800.8,1612.8 802.2,1614.9 803.6,1617.0 804.9,1619.1 806.2,1621.2 807.5,1623.3 808.8,1625.4 810.1,1627.6 811.3,1629.7 812.4,1631.8 813.5,1633.9 814.5,1636.0 815.5,1638.1 816.4,1640.2 817.3,1642.3 818.1,1644.4 818.9,1646.6 819.7,1648.7 820.5,1650.8 821.2,1652.9 821.8,1655.0 822.4,1657.1 823.0,1659.2 823.7,1661.3 824.2,1663.4 824.8,1665.6 825.3,1667.7 825.7,1669.8 826.1,1671.9 826.4,1674.0 826.7,1676.1 826.9,1678.2 827.1,1680.3 827.3,1682.4 827.5,1684.6 827.7,1686.7 827.8,1688.8 827.9,1690.9 828.0,1693.0 828.0,1695.1 828.1,1697.2 828.1,1699.4 828.1,1701.5 828.2,1703.6 828.2,1705.8 828.2,1707.9 828.2,1710.0 828.2,1712.0 828.2,1714.0 828.2,1716.0 828.2,1718.0 828.2,1720.0 828.2,1722.0 828.2,1724.0 828.2,1726.0 828.2,1728.0 828.2,1730.0 828.2,1732.0 828.2,1732.0 828.2,1730.0 828.2,1728.0 828.2,1726.0 828.2,1724.0 828.2,1722.0 828.2,1720.0 828.2,1718.0 828.2,1716.0 828.2,1714.0 828.2,1712.0 828.2,1710.0 828.2,1707.9 828.2,1705.8 828.2,1703.6 828.3,1701.5 828.3,1699.4 828.3,1697.2 828.4,1695.1 828.4,1693.0 828.5,1690.9 828.6,1688.8 828.7,1686.7 828.9,1684.6 829.1,1682.4 829.3,1680.3 829.5,1678.2 829.7,1676.1 830.0,1674.0 830.3,1671.9 830.7,1669.8 831.1,1667.7 831.6,1665.6 832.2,1663.4 832.7,1661.3 833.4,1659.2 834.0,1657.1 834.6,1655.0 835.2,1652.9 835.9,1650.8 836.7,1648.7 837.5,1646.6 838.3,1644.4 839.1,1642.3 840.0,1640.2 840.9,1638.1 841.9,1636.0 842.9,1633.9 844.0,1631.8 845.1,1629.7 846.3,1627.6 847.6,1625.4 848.9,1623.3 850.2,1621.2 851.5,1619.1 852.8,1617.0 854.2,1614.9 855.6,1612.8 857.1,1610.7 858.6,1608.6 860.1,1606.4 861.6,1604.3 863.1,1602.2 864.4,1600.1 865.7,1598.0 866.9,1595.9 868.1,1593.8 869.3,1591.7 870.5,1589.6 871.6,1587.4 872.6,1585.3 873.6,1583.2 874.4,1581.1 875.2,1579.0 875.9,1576.9 876.5,1574.8 877.0,1572.7 877.5,1570.6 878.0,1568.4 878.5,1566.3 879.0,1564.2 879.5,1562.1 880.0,1560.0 880.6,1557.9 881.1,1555.8 881.7,1553.7 882.3,1551.6 882.9,1549.4 883.4,1547.3 884.0,1545.2 884.6,1543.1 885.2,1541.0 885.8,1538.9 886.4,1536.8 887.0,1534.6 887.6,1532.5 888.3,1530.4 888.9,1528.3 889.4,1526.1 890.0,1524.0 890.5,1521.9 891.0,1519.8 891.6,1517.7 892.1,1515.6 892.7,1513.5 893.2,1511.3 893.6,1509.2 894.0,1507.1 894.2,1505.0 894.3,1502.9 894.3,1500.8 894.3,1498.7 894.3,1496.5 894.3,1494.4 894.3,1492.3 894.3,1490.2 894.3,1488.0 894.3,1485.9 894.3,1483.8 894.2,1481.6 894.0,1479.5 893.6,1477.3 893.1,1475.1 892.6,1472.9 892.0,1470.8 891.4,1468.6 890.6,1466.3 889.5,1464.1 888.1,1461.8 886.7,1459.5 885.2,1457.3 883.8,1455.0 882.5,1452.9 881.3,1450.8 880.0,1448.7 878.7,1446.6 877.3,1444.4 876.0,1442.3 874.6,1440.2 873.3,1438.1 871.9,1436.0 870.5,1433.9 869.0,1431.8 867.5,1429.7 866.0,1427.6 864.5,1425.4 863.1,1423.3 861.6,1421.2 860.3,1419.1 859.0,1417.0 857.7,1414.8 856.5,1412.5 855.4,1410.2 854.4,1408.0 853.5,1406.0 852.7,1404.0 851.8,1402.0 851.1,1400.0 850.5,1398.0 850.0,1395.8 849.5,1393.7 849.1,1391.5 848.7,1389.3 848.3,1387.2 847.8,1385.0 847.2,1383.0 846.6,1381.0 845.9,1379.0 845.1,1377.0 844.4,1375.0 843.8,1373.0 843.3,1371.0 842.9,1369.0 842.5,1367.0 842.1,1365.0 841.8,1363.0 841.4,1361.0 841.1,1359.0 840.8,1357.0 840.5,1355.0 840.2,1353.0 839.9,1351.0 839.6,1349.0 839.3,1347.0 838.9,1345.0 838.6,1343.0 838.2,1340.9 837.9,1338.9 837.5,1336.8 837.1,1334.7 836.7,1332.6 836.3,1330.6 835.9,1328.5 835.5,1326.4 835.1,1324.4 834.7,1322.3 834.3,1320.2 834.0,1318.1 833.6,1316.1 833.3,1314.0 833.0,1312.0 832.6,1310.0 832.3,1308.0 831.9,1306.0 831.5,1304.0 831.2,1302.0 830.9,1300.0 830.5,1298.0 830.3,1296.0 830.0,1294.0 829.8,1292.0 829.6,1290.0 829.5,1288.0 829.5,1286.0 829.5,1283.9 829.5,1281.8 829.5,1279.7 829.5,1277.6 829.5,1275.4 829.5,1273.3 829.5,1271.2 829.5,1269.1 829.5,1267.0 829.5,1264.9 829.6,1262.9 829.7,1260.8 829.8,1258.7 829.9,1256.6 830.1,1254.6 830.2,1252.5 830.4,1250.4 830.6,1248.4 830.8,1246.3 831.0,1244.2 831.2,1242.1 831.4,1240.1 831.6,1238.0 831.8,1236.0 832.0,1233.9 832.2,1231.9 832.4,1229.9 832.7,1227.8 832.9,1225.8 833.1,1223.8 833.4,1221.7 833.6,1219.7 833.8,1217.6 834.1,1215.6 834.3,1213.6 834.4,1211.5 834.6,1209.5 834.8,1207.5 834.9,1205.4 835.1,1203.4 835.2,1201.4 835.4,1199.3 835.5,1197.3 835.7,1195.2 835.8,1193.2 835.9,1191.2 836.0,1189.1 836.1,1187.1 836.1,1185.1 836.2,1183.0 836.2,1181.0 836.2,1178.9 836.1,1176.9 836.0,1174.8 835.9,1172.7 835.8,1170.6 835.6,1168.6 835.4,1166.5 835.2,1164.4 835.0,1162.4 834.7,1160.3 834.5,1158.2 834.3,1156.1 834.0,1154.1 833.8,1152.0 833.6,1150.0 833.2,1148.0 832.9,1146.0 832.5,1144.0 832.1,1142.0 831.7,1140.0 831.3,1138.0 830.9,1136.0 830.5,1134.0 830.2,1132.0 829.9,1130.0 829.7,1128.0 829.5,1126.0 829.5,1124.0 829.5,1122.0 829.5,1120.0 829.5,1118.0 829.5,1116.0 829.5,1114.0 829.5,1112.0 829.5,1110.0 829.5,1108.0 829.5,1106.0 829.5,1104.0 829.5,1102.0 829.5,1100.0 829.5,1098.0 829.5,1096.0 829.5,1094.0 829.5,1092.0 829.5,1090.0 829.5,1088.0 829.5,1086.0 829.5,1084.0 829.5,1082.0 829.5,1080.0 829.5,1078.0 829.5,1076.0 829.5,1073.9 829.6,1071.8 829.8,1069.7 830.0,1067.6 830.3,1065.4 830.5,1063.3 830.8,1061.2 831.1,1059.1 831.4,1057.0 831.7,1054.9 832.1,1052.8 832.6,1050.7 833.1,1048.6 833.6,1046.4 834.1,1044.3 834.6,1042.2 835.1,1040.1 835.5,1038.0 835.9,1035.9 836.3,1033.8 836.6,1031.7 837.0,1029.6 837.3,1027.4 837.7,1025.3 838.0,1023.2 838.3,1021.1 838.6,1019.0 838.9,1016.9 839.3,1014.8 839.6,1012.8 840.0,1010.7 840.3,1008.6 840.7,1006.5 841.0,1004.5 841.3,1002.4 841.6,1000.3 841.8,998.2 842.0,996.2 842.1,994.1 842.1,992.0 842.1,989.9 842.1,987.8 842.0,985.7 841.9,983.6 841.8,981.4 841.7,979.3 841.6,977.2 841.5,975.1 841.4,973.0 841.3,971.0 841.1,969.0 840.9,967.0 840.6,965.0 840.4,963.0 840.1,961.0 839.8,959.0 839.4,957.0 839.1,955.0 838.7,953.0 838.3,951.0 837.9,949.0 837.4,947.0 837.0,945.0 836.3,942.8 835.4,940.6 834.4,938.4 833.5,936.2 832.8,934.0 832.4,932.0 832.1,930.0 831.8,928.0 831.6,926.0 831.3,923.9 831.1,921.8 830.8,919.7 830.5,917.6 830.2,915.5 830.0,913.4 829.8,911.3 829.6,909.2 829.5,907.1 829.4,905.0 829.4,902.9 829.3,900.8 829.3,898.8 829.2,896.7 829.2,894.6 829.2,892.5 829.2,890.4 829.1,888.3 829.1,886.2 829.1,884.2 829.1,882.1 829.1,880.0 829.1,878.0 829.1,876.0 829.2,874.0 829.2,872.0 829.3,870.0 829.4,868.0 829.4,866.0 829.5,864.0 829.6,862.0 829.7,860.0 829.8,858.0 830.0,856.0 830.2,854.0 830.4,852.0 830.6,850.0 830.8,848.0 831.0,846.0 831.3,844.0 831.5,842.0 831.8,840.0 832.1,838.0 832.4,836.0 832.7,834.0 833.1,832.0 833.5,830.0 833.9,828.0 834.4,826.0 834.8,824.0 835.1,822.0 835.4,820.0 835.6,818.0 835.8,816.0 836.0,814.0 836.1,812.0 836.3,810.0 836.4,808.0 836.5,806.0 836.6,804.0 836.6,802.0 836.6,799.9 836.5,797.8 836.4,795.6 836.2,793.5 836.0,791.4 835.8,789.2 835.6,787.1 835.4,785.0 835.2,782.9 834.8,780.8 834.5,778.6 834.1,776.5 833.7,774.4 833.3,772.2 833.0,770.1 832.7,768.0 832.5,766.0 832.3,764.0 832.1,762.0 831.9,760.0 831.7,758.0 831.6,756.0 831.4,754.0 831.2,752.0 831.0,750.0 830.8,748.0 830.7,746.0 830.5,744.0 830.3,742.0 830.2,740.0 830.1,737.9 829.9,735.7 829.8,733.6 829.7,731.4 829.6,729.3 829.5,727.1 829.4,725.0 829.3,722.9 829.2,720.8 829.1,718.8 829.0,716.7 828.9,714.6 828.9,712.5 828.8,710.4 828.7,708.3 828.6,706.2 828.6,704.2 828.5,702.1 828.5,700.0 828.5,698.0 828.4,696.0 828.4,694.0 828.4,692.0 828.4,690.0 828.4,688.0 828.4,686.0 828.3,684.0 828.3,682.0 828.3,680.0 828.3,678.0 828.3,676.0 828.3,674.0 828.2,672.0 828.2,670.0 828.2,668.0 828.2,666.0" fill="#FFE0C0" stroke="#FFA033" stroke-width="8.8" stroke-linejoin="round" stroke-linecap="round"/>
<circle cx="828.0" cy="1357.8" r="11.6" fill="#D95F02"/>
<circle cx="849.1" cy="1466.7" r="11.6" fill="#D95F02"/>
<circle cx="766.1" cy="1474.3" r="11.6" fill="#D95F02"/>
<circle cx="891.4" cy="1478.5" r="11.6" fill="#D95F02"/>
<circle cx="766.1" cy="1494.3" r="11.6" fill="#D95F02"/>
<circle cx="849.1" cy="1487.6" r="11.6" fill="#D95F02"/>
<circle cx="849.1" cy="1548.6" r="11.6" fill="#D95F02"/>
<circle cx="849.1" cy="1569.5" r="11.6" fill="#D95F02"/>
<circle cx="807.0" cy="1598.1" r="11.6" fill="#D95F02"/>
<polygon points="807.2,1462.4 812.1,1477.6 828.1,1477.6 815.2,1487.0 820.1,1502.2 807.2,1492.8 794.3,1502.2 799.2,1487.0 786.3,1477.6 802.3,1477.6" fill="#00FF00"/>
<path d="M766.7 1478 H796.2 A6.7 6.7 0 0 1 796.2 1491.4 H766.7 Z" fill="#FFC080"/>
<rect x="831.4" y="1478" width="41.9" height="13.4" rx="6.7" fill="#FFC080"/>
<circle cx="780.0" cy="1556.6" r="4.2" fill="#FFC080"/>
<circle cx="807.2" cy="1556.6" r="4.2" fill="#FFC080"/>
<circle cx="836.2" cy="1556.6" r="4.2" fill="#FFC080"/>
<circle cx="864.8" cy="1556.6" r="4.2" fill="#FFC080"/>
<polygon points="828.0,779.1 832.9,794.3 848.9,794.3 836.0,803.7 840.9,818.9 828.0,809.5 815.1,818.9 820.0,803.7 807.1,794.3 823.1,794.3" fill="#00FF00"/>
<polygon points="848.8,960.7 853.7,975.9 869.7,975.9 856.8,985.3 861.7,1000.5 848.8,991.1 835.9,1000.5 840.8,985.3 827.9,975.9 843.9,975.9" fill="#00FF00"/>
<polygon points="807.6,975.3 812.5,990.5 828.5,990.5 815.6,999.9 820.5,1015.1 807.6,1005.7 794.7,1015.1 799.6,999.9 786.7,990.5 802.7,990.5" fill="#00FF00"/>
<polygon points="828.0,1165.8 832.9,1181.0 848.9,1181.0 836.0,1190.4 840.9,1205.6 828.0,1196.2 815.1,1205.6 820.0,1190.4 807.1,1181.0 823.1,1181.0" fill="#00FF00"/>
<polygon points="828.0,1375.0 832.9,1390.2 848.9,1390.2 836.0,1399.6 840.9,1414.8 828.0,1405.4 815.1,1414.8 820.0,1399.6 807.1,1390.2 823.1,1390.2" fill="#00FF00"/>
<polygon points="828.0,1424.3 832.9,1439.5 848.9,1439.5 836.0,1448.9 840.9,1464.1 828.0,1454.7 815.1,1464.1 820.0,1448.9 807.1,1439.5 823.1,1439.5" fill="#00FF00"/>
<polygon points="807.2,1484.0 812.1,1499.2 828.1,1499.2 815.2,1508.6 820.1,1523.8 807.2,1514.4 794.3,1523.8 799.2,1508.6 786.3,1499.2 802.3,1499.2" fill="#00FF00"/>
<polygon points="849.1,1499.1 854.0,1514.3 870.0,1514.3 857.1,1523.7 862.0,1538.9 849.1,1529.5 836.2,1538.9 841.1,1523.7 828.2,1514.3 844.2,1514.3" fill="#00FF00"/>
<polygon points="766.1,1550.2 771.0,1565.4 787.0,1565.4 774.1,1574.8 779.0,1590.0 766.1,1580.6 753.2,1590.0 758.1,1574.8 745.2,1565.4 761.2,1565.4" fill="#00FF00"/>
<polygon points="891.0,1542.6 895.9,1557.8 911.9,1557.8 899.0,1567.2 903.9,1582.4 891.0,1573.0 878.1,1582.4 883.0,1567.2 870.1,1557.8 886.1,1557.8" fill="#00FF00"/>
<polygon points="849.1,1566.4 854.0,1581.6 870.0,1581.6 857.1,1591.0 862.0,1606.2 849.1,1596.8 836.2,1606.2 841.1,1591.0 828.2,1581.6 844.2,1581.6" fill="#00FF00"/>
<polygon points="1044.8,743.9 1049.0,756.8 1062.6,756.8 1051.6,764.8 1055.8,777.7 1044.8,769.7 1033.8,777.7 1038.0,764.8 1027.0,756.8 1040.6,756.8" fill="#FF4040"/>
<polygon points="992.4,961.1 996.6,974.0 1010.2,974.0 999.2,982.0 1003.4,994.9 992.4,986.9 981.4,994.9 985.6,982.0 974.6,974.0 988.2,974.0" fill="#FF4040"/>
<polygon points="1019.0,982.7 1023.2,995.6 1036.8,995.6 1025.8,1003.6 1030.0,1016.5 1019.0,1008.5 1008.0,1016.5 1012.2,1003.6 1001.2,995.6 1014.8,995.6" fill="#FF4040"/>
<polygon points="1044.8,980.3 1049.0,993.2 1062.6,993.2 1051.6,1001.2 1055.8,1014.1 1044.8,1006.1 1033.8,1014.1 1038.0,1001.2 1027.0,993.2 1040.6,993.2" fill="#FF4040"/>
<polygon points="1071.0,976.1 1075.2,989.0 1088.8,989.0 1077.8,997.0 1082.0,1009.9 1071.0,1001.9 1060.0,1009.9 1064.2,997.0 1053.2,989.0 1066.8,989.0" fill="#FF4040"/>
<polygon points="1098.3,957.5 1102.5,970.4 1116.1,970.4 1105.1,978.4 1109.3,991.3 1098.3,983.3 1087.3,991.3 1091.5,978.4 1080.5,970.4 1094.1,970.4" fill="#FF4040"/>
<polygon points="1031.2,1143.2 1035.4,1156.1 1049.0,1156.1 1038.0,1164.1 1042.2,1177.0 1031.2,1169.0 1020.2,1177.0 1024.4,1164.1 1013.4,1156.1 1027.0,1156.1" fill="#FF4040"/>
<polygon points="1057.4,1137.5 1061.6,1150.4 1075.2,1150.4 1064.2,1158.4 1068.4,1171.3 1057.4,1163.3 1046.4,1171.3 1050.6,1158.4 1039.6,1150.4 1053.2,1150.4" fill="#FF4040"/>
<polygon points="1044.8,1294.6 1049.0,1307.5 1062.6,1307.5 1051.6,1315.5 1055.8,1328.4 1044.8,1320.4 1033.8,1328.4 1038.0,1315.5 1027.0,1307.5 1040.6,1307.5" fill="#FF4040"/>
<polygon points="1019.0,1319.6 1023.2,1332.5 1036.8,1332.5 1025.8,1340.5 1030.0,1353.4 1019.0,1345.4 1008.0,1353.4 1012.2,1340.5 1001.2,1332.5 1014.8,1332.5" fill="#FF4040"/>
<polygon points="1044.8,1349.4 1049.0,1362.3 1062.6,1362.3 1051.6,1370.3 1055.8,1383.2 1044.8,1375.2 1033.8,1383.2 1038.0,1370.3 1027.0,1362.3 1040.6,1362.3" fill="#FF4040"/>
<polygon points="1019.0,1459.2 1023.2,1472.1 1036.8,1472.1 1025.8,1480.1 1030.0,1493.0 1019.0,1485.0 1008.0,1493.0 1012.2,1480.1 1001.2,1472.1 1014.8,1472.1" fill="#FF4040"/>
<polygon points="1071.0,1484.6 1075.2,1497.5 1088.8,1497.5 1077.8,1505.5 1082.0,1518.4 1071.0,1510.4 1060.0,1518.4 1064.2,1505.5 1053.2,1497.5 1066.8,1497.5" fill="#FF4040"/>
<polygon points="1044.8,1497.3 1049.0,1510.2 1062.6,1510.2 1051.6,1518.2 1055.8,1531.1 1044.8,1523.1 1033.8,1531.1 1038.0,1518.2 1027.0,1510.2 1040.6,1510.2" fill="#FF4040"/>
<polygon points="1044.8,1536.3 1049.0,1549.2 1062.6,1549.2 1051.6,1557.2 1055.8,1570.1 1044.8,1562.1 1033.8,1570.1 1038.0,1557.2 1027.0,1549.2 1040.6,1549.2" fill="#FF4040"/>
<path d="M973 1156.7 A5 5 0 0 1 973 1166.7 Z" fill="#FF8888"/>
<circle cx="1001.9" cy="1161.7" r="5.0" fill="#FF8888"/>
<circle cx="1030.5" cy="1161.7" r="5.0" fill="#FF8888"/>
<circle cx="1059.0" cy="1161.7" r="5.0" fill="#FF8888"/>
<circle cx="1087.9" cy="1161.7" r="5.0" fill="#FF8888"/>
<circle cx="1262.0" cy="1597.6" r="10.0" fill="#00008B"/>
<circle cx="1309.2" cy="1609.6" r="10.0" fill="#00008B"/>
<circle cx="1215.2" cy="1624.7" r="10.0" fill="#00008B"/>
<circle cx="1231.0" cy="1626.4" r="10.0" fill="#00008B"/>
<circle cx="1246.0" cy="1624.7" r="10.0" fill="#00008B"/>
<circle cx="1277.1" cy="1625.7" r="10.0" fill="#00008B"/>
<circle cx="1309.2" cy="1629.7" r="10.0" fill="#00008B"/>
<circle cx="1199.4" cy="1632.7" r="10.0" fill="#00008B"/>
<circle cx="1262.0" cy="1639.0" r="10.0" fill="#00008B"/>
<circle cx="1292.9" cy="1635.2" r="10.0" fill="#00008B"/>
<circle cx="1325.5" cy="1635.2" r="10.0" fill="#00008B"/>
<path d="M1189.6 1619.7 H1218.5 A7.15 7.15 0 0 1 1218.5 1634 H1189.6 Z" fill="#0000FF"/>
<rect x="1255.3" y="1619.7" width="42.1" height="14.3" rx="7.15" fill="#0000FF"/>
<polygon points="1478.8,853.0 1483.0,865.9 1496.6,865.9 1485.6,873.9 1489.8,886.8 1478.8,878.8 1467.8,886.8 1472.0,873.9 1461.0,865.9 1474.6,865.9" fill="#FF4040"/>
<polygon points="1478.8,974.9 1483.0,987.8 1496.6,987.8 1485.6,995.8 1489.8,1008.7 1478.8,1000.7 1467.8,1008.7 1472.0,995.8 1461.0,987.8 1474.6,987.8" fill="#FF4040"/>
<polygon points="1505.0,962.5 1509.2,975.4 1522.8,975.4 1511.8,983.4 1516.0,996.3 1505.0,988.3 1494.0,996.3 1498.2,983.4 1487.2,975.4 1500.8,975.4" fill="#FF4040"/>
<polygon points="1478.8,1094.4 1483.0,1107.3 1496.6,1107.3 1485.6,1115.3 1489.8,1128.2 1478.8,1120.2 1467.8,1128.2 1472.0,1115.3 1461.0,1107.3 1474.6,1107.3" fill="#FF4040"/>
<polygon points="1478.8,1189.6 1483.0,1202.5 1496.6,1202.5 1485.6,1210.5 1489.8,1223.4 1478.8,1215.4 1467.8,1223.4 1472.0,1210.5 1461.0,1202.5 1474.6,1202.5" fill="#FF4040"/>
<polygon points="1478.8,1242.7 1483.0,1255.6 1496.6,1255.6 1485.6,1263.6 1489.8,1276.5 1478.8,1268.5 1467.8,1276.5 1472.0,1263.6 1461.0,1255.6 1474.6,1255.6" fill="#FF4040"/>
<polygon points="1478.5,1462.5 1482.7,1475.4 1496.3,1475.4 1485.3,1483.4 1489.5,1496.3 1478.5,1488.3 1467.5,1496.3 1471.7,1483.4 1460.7,1475.4 1474.3,1475.4" fill="#FF4040"/>
<polygon points="1425.7,1612.7 1429.9,1625.6 1443.5,1625.6 1432.5,1633.6 1436.7,1646.5 1425.7,1638.5 1414.7,1646.5 1418.9,1633.6 1407.9,1625.6 1421.5,1625.6" fill="#FF4040"/>
<polygon points="1452.1,1600.2 1456.3,1613.1 1469.9,1613.1 1458.9,1621.1 1463.1,1634.0 1452.1,1626.0 1441.1,1634.0 1445.3,1621.1 1434.3,1613.1 1447.9,1613.1" fill="#FF4040"/>
<polygon points="1478.4,1610.2 1482.6,1623.1 1496.2,1623.1 1485.2,1631.1 1489.4,1644.0 1478.4,1636.0 1467.4,1644.0 1471.6,1631.1 1460.6,1623.1 1474.2,1623.1" fill="#FF4040"/>
<polygon points="1505.2,1603.2 1509.4,1616.1 1523.0,1616.1 1512.0,1624.1 1516.2,1637.0 1505.2,1629.0 1494.2,1637.0 1498.4,1624.1 1487.4,1616.1 1501.0,1616.1" fill="#FF4040"/>
<polygon points="1532.3,1578.9 1536.5,1591.8 1550.1,1591.8 1539.1,1599.8 1543.3,1612.7 1532.3,1604.7 1521.3,1612.7 1525.5,1599.8 1514.5,1591.8 1528.1,1591.8" fill="#FF4040"/>
<polygon points="1532.3,1618.3 1536.5,1631.2 1550.1,1631.2 1539.1,1639.2 1543.3,1652.1 1532.3,1644.1 1521.3,1652.1 1525.5,1639.2 1514.5,1631.2 1528.1,1631.2" fill="#FF4040"/>
<path d="M1406.8 1476 A5 5 0 0 1 1406.8 1486 Z" fill="#FF4040"/>
<circle cx="1435.7" cy="1481.0" r="5.0" fill="#FF4040"/>
<circle cx="1464.0" cy="1481.0" r="5.0" fill="#FF4040"/>
<circle cx="1492.8" cy="1481.0" r="5.0" fill="#FF4040"/>
<circle cx="1521.6" cy="1481.0" r="5.0" fill="#FF4040"/>
<rect x="1623.9" y="1161.4" width="105" height="14.3" fill="#6A479C"/>
<polygon points="1643.1,1141.5 1647.3,1154.4 1660.9,1154.4 1649.9,1162.4 1654.1,1175.3 1643.1,1167.3 1632.1,1175.3 1636.3,1162.4 1625.3,1154.4 1638.9,1154.4" fill="#FF4040"/>
<polygon points="1653.6,1139.4 1657.8,1152.3 1671.4,1152.3 1660.4,1160.3 1664.6,1173.2 1653.6,1165.2 1642.6,1173.2 1646.8,1160.3 1635.8,1152.3 1649.4,1152.3" fill="#FF4040"/>
<polygon points="1674.0,1141.5 1678.2,1154.4 1691.8,1154.4 1680.8,1162.4 1685.0,1175.3 1674.0,1167.3 1663.0,1175.3 1667.2,1162.4 1656.2,1154.4 1669.8,1154.4" fill="#FF4040"/>
<polygon points="1685.0,1149.3 1689.2,1162.2 1702.8,1162.2 1691.8,1170.2 1696.0,1183.1 1685.0,1175.1 1674.0,1183.1 1678.2,1170.2 1667.2,1162.2 1680.8,1162.2" fill="#FF4040"/>
<polygon points="1695.7,1142.7 1699.9,1155.6 1713.5,1155.6 1702.5,1163.6 1706.7,1176.5 1695.7,1168.5 1684.7,1176.5 1688.9,1163.6 1677.9,1155.6 1691.5,1155.6" fill="#FF4040"/>
<polygon points="1717.6,1141.5 1721.8,1154.4 1735.4,1154.4 1724.4,1162.4 1728.6,1175.3 1717.6,1167.3 1706.6,1175.3 1710.8,1162.4 1699.8,1154.4 1713.4,1154.4" fill="#FF4040"/>
<polygon points="1727.4,1141.5 1731.6,1154.4 1745.2,1154.4 1734.2,1162.4 1738.4,1175.3 1727.4,1167.3 1716.4,1175.3 1720.6,1162.4 1709.6,1154.4 1723.2,1154.4" fill="#FF4040"/>
<polygon points="1737.9,1143.7 1742.1,1156.6 1755.7,1156.6 1744.7,1164.6 1748.9,1177.5 1737.9,1169.5 1726.9,1177.5 1731.1,1164.6 1720.1,1156.6 1733.7,1156.6" fill="#FF4040"/>
<polygon points="1749.3,1145.1 1753.5,1158.0 1767.1,1158.0 1756.1,1166.0 1760.3,1178.9 1749.3,1170.9 1738.3,1178.9 1742.5,1166.0 1731.5,1158.0 1745.1,1158.0" fill="#FF4040"/>
<polygon points="1663.6,1157.5 1667.8,1170.4 1681.4,1170.4 1670.4,1178.4 1674.6,1191.3 1663.6,1183.3 1652.6,1191.3 1656.8,1178.4 1645.8,1170.4 1659.4,1170.4" fill="#FF4040"/>
<polygon points="1690.7,1169.6 1694.9,1182.5 1708.5,1182.5 1697.5,1190.5 1701.7,1203.4 1690.7,1195.4 1679.7,1203.4 1683.9,1190.5 1672.9,1182.5 1686.5,1182.5" fill="#FF4040"/>
<polygon points="1701.4,1165.3 1705.6,1178.2 1719.2,1178.2 1708.2,1186.2 1712.4,1199.1 1701.4,1191.1 1690.4,1199.1 1694.6,1186.2 1683.6,1178.2 1697.2,1178.2" fill="#FF4040"/>
<polygon points="1707.0,1157.3 1711.2,1170.2 1724.8,1170.2 1713.8,1178.2 1718.0,1191.1 1707.0,1183.1 1696.0,1191.1 1700.2,1178.2 1689.2,1170.2 1702.8,1170.2" fill="#FF4040"/>
<polygon points="1695.7,1215.6 1699.9,1228.5 1713.5,1228.5 1702.5,1236.5 1706.7,1249.4 1695.7,1241.4 1684.7,1249.4 1688.9,1236.5 1677.9,1228.5 1691.5,1228.5" fill="#FF4040"/>
<polygon points="1695.7,1265.6 1699.9,1278.5 1713.5,1278.5 1702.5,1286.5 1706.7,1299.4 1695.7,1291.4 1684.7,1299.4 1688.9,1286.5 1677.9,1278.5 1691.5,1278.5" fill="#FF4040"/>
<polygon points="1695.7,1282.3 1699.9,1295.2 1713.5,1295.2 1702.5,1303.2 1706.7,1316.1 1695.7,1308.1 1684.7,1316.1 1688.9,1303.2 1677.9,1295.2 1691.5,1295.2" fill="#FF4040"/>
<polygon points="1695.7,1349.4 1699.9,1362.3 1713.5,1362.3 1702.5,1370.3 1706.7,1383.2 1695.7,1375.2 1684.7,1383.2 1688.9,1370.3 1677.9,1362.3 1691.5,1362.3" fill="#FF4040"/>
<circle cx="1861.2" cy="1618.1" r="14.0" fill="#0000C8"/>
<circle cx="1970.9" cy="1618.1" r="14.0" fill="#0000C8"/>
<circle cx="1950.4" cy="1622.4" r="14.0" fill="#0000C8"/>
<circle cx="1887.2" cy="1626.7" r="14.0" fill="#0000C8"/>
<circle cx="1918.0" cy="1628.4" r="14.0" fill="#0000C8"/>
<circle cx="1854.7" cy="1637.0" r="14.0" fill="#0000C8"/>
<circle cx="1879.5" cy="1644.6" r="14.0" fill="#0000C8"/>
<circle cx="1906.0" cy="1643.8" r="14.0" fill="#0000C8"/>
<circle cx="1930.0" cy="1640.3" r="14.0" fill="#0000C8"/>
<circle cx="1957.3" cy="1643.8" r="14.0" fill="#0000C8"/>
<circle cx="1964.0" cy="1635.2" r="14.0" fill="#0000C8"/>
<circle cx="1872.0" cy="1630.0" r="14.0" fill="#0000C8"/>
<circle cx="1900.0" cy="1634.0" r="14.0" fill="#0000C8"/>
<circle cx="1940.0" cy="1630.0" r="14.0" fill="#0000C8"/>
<circle cx="1918.0" cy="1642.0" r="14.0" fill="#0000C8"/>
<path d="M1840.5 1626.3 H1869.2 A6.85 6.85 0 0 1 1869.2 1640 H1840.5 Z" fill="#5B5BFF"/>
<rect x="1906" y="1626.3" width="41.9" height="13.7" rx="6.85" fill="#5B5BFF"/>
<rect x="460.1" y="416.2" width="14.8" height="1604.6" fill="#000"/>
<rect x="460.1" y="2006.6" width="1606.1" height="14.2" fill="#000"/>
<rect x="411.7" y="416.2" width="50.0" height="14.3" fill="#000"/>
<rect x="435.9" y="477.5" width="26.0" height="14.0" fill="#000"/>
<rect x="435.9" y="538.7" width="26.0" height="14.0" fill="#000"/>
<rect x="435.9" y="600.0" width="26.0" height="14.0" fill="#000"/>
<rect x="435.9" y="661.2" width="26.0" height="14.0" fill="#000"/>
<rect x="435.9" y="722.4" width="26.0" height="14.0" fill="#000"/>
<rect x="435.9" y="783.6" width="26.0" height="14.0" fill="#000"/>
<rect x="435.9" y="844.8" width="26.0" height="14.0" fill="#000"/>
<rect x="435.9" y="906.1" width="26.0" height="14.0" fill="#000"/>
<rect x="435.9" y="967.3" width="26.0" height="14.0" fill="#000"/>
<rect x="411.7" y="1028.3" width="50.0" height="14.3" fill="#000"/>
<rect x="435.9" y="1089.7" width="26.0" height="14.0" fill="#000"/>
<rect x="435.9" y="1150.9" width="26.0" height="14.0" fill="#000"/>
<rect x="435.9" y="1212.2" width="26.0" height="14.0" fill="#000"/>
<rect x="435.9" y="1273.4" width="26.0" height="14.0" fill="#000"/>
<rect x="435.9" y="1334.6" width="26.0" height="14.0" fill="#000"/>
<rect x="435.9" y="1395.8" width="26.0" height="14.0" fill="#000"/>
<rect x="435.9" y="1457.0" width="26.0" height="14.0" fill="#000"/>
<rect x="435.9" y="1518.3" width="26.0" height="14.0" fill="#000"/>
<rect x="435.9" y="1579.5" width="26.0" height="14.0" fill="#000"/>
<rect x="411.7" y="1640.5" width="50.0" height="14.3" fill="#000"/>
<rect x="435.9" y="1701.9" width="26.0" height="14.0" fill="#000"/>
<rect x="435.9" y="1763.1" width="26.0" height="14.0" fill="#000"/>
<rect x="435.9" y="1824.4" width="26.0" height="14.0" fill="#000"/>
<rect x="435.9" y="1885.6" width="26.0" height="14.0" fill="#000"/>
<rect x="435.9" y="1946.8" width="26.0" height="14.0" fill="#000"/>
<rect x="605.1" y="2015.0" width="13.8" height="52.7" fill="#000"/>
<rect x="822.0" y="2015.0" width="13.8" height="52.7" fill="#000"/>
<rect x="1038.9" y="2015.0" width="13.8" height="52.7" fill="#000"/>
<rect x="1255.8" y="2015.0" width="13.8" height="52.7" fill="#000"/>
<rect x="1472.7" y="2015.0" width="13.8" height="52.7" fill="#000"/>
<rect x="1689.6" y="2015.0" width="13.8" height="52.7" fill="#000"/>
<rect x="1906.5" y="2015.0" width="13.8" height="52.7" fill="#000"/>
<rect x="606.0" y="102.8" width="1094.0" height="9.3" fill="#000"/>
<rect x="606.0" y="102.8" width="9.7" height="60.5" fill="#000"/>
<rect x="1690.6" y="102.8" width="9.4" height="60.5" fill="#000"/>
<rect x="606.0" y="301.5" width="661.3" height="9.3" fill="#000"/>
<rect x="606.0" y="301.5" width="9.7" height="60.9" fill="#000"/>
<rect x="1257.0" y="301.5" width="10.3" height="60.9" fill="#000"/>
<rect x="606.0" y="503.8" width="208.3" height="6.2" fill="#000"/>
<rect x="606.0" y="503.8" width="10.2" height="57.0" fill="#000"/>
<rect x="804.0" y="503.8" width="10.3" height="57.0" fill="#000"/>
<rect x="858.0" y="499.7" width="409.3" height="9.4" fill="#000"/>
<rect x="842.2" y="503.8" width="20.0" height="5.3" fill="#000"/>
<rect x="842.2" y="503.8" width="9.8" height="57.0" fill="#000"/>
<rect x="1257.0" y="499.7" width="10.3" height="61.1" fill="#000"/>
<text x="1153.6" y="70.9" font-size="71.0" font-weight="bold" text-anchor="middle" letter-spacing="2">ns</text>
<text x="930.3" y="259.6" font-size="73.0" font-weight="bold" text-anchor="middle" letter-spacing="-3.4">&lt;0.0001</text>
<text x="714.7" y="470.6" font-size="71.0" font-weight="bold" text-anchor="middle" letter-spacing="2">ns</text>
<text x="1053.0" y="456.6" font-size="70.5" font-weight="bold" text-anchor="middle" letter-spacing="-0.9">0.0144</text>
<text x="402.2" y="453.6" font-size="81.3" font-weight="bold" text-anchor="end">1000</text>
<text x="402.0" y="1065.4" font-size="81.0" font-weight="bold" text-anchor="end">500</text>
<text x="402.0" y="1677.4" font-size="81.0" font-weight="bold" text-anchor="end">0</text>
<text transform="translate(87.4,1221.5) rotate(-90)" font-size="80" font-weight="bold" text-anchor="middle" letter-spacing="-0.3">Surrogate neutralization</text>
<text transform="translate(182.9,1208.6) rotate(-90)" font-size="80" text-anchor="middle" letter-spacing="-0.55">α-RBD neutralizing antibodies (ng/mL)</text>
<polygon points="1426.6,1746.3 1432.8,1765.4 1452.8,1765.4 1436.6,1777.2 1442.8,1796.2 1426.6,1784.4 1410.4,1796.2 1416.6,1777.2 1400.4,1765.4 1420.4,1765.4" fill="#FF0000"/>
<polygon points="1426.6,1823.0 1432.8,1842.1 1452.8,1842.1 1436.6,1853.9 1442.8,1872.9 1426.6,1861.1 1410.4,1872.9 1416.6,1853.9 1400.4,1842.1 1420.4,1842.1" fill="#00FF00"/>
<text x="1463.7" y="1792.9" font-size="57.4" text-anchor="start" letter-spacing="3.1">Exposure</text>
<text x="1462.7" y="1870.5" font-size="57.4" text-anchor="start" letter-spacing="1.92">Increase of neutralizing</text>
<text x="1449.2" y="1944.7" font-size="57.4" text-anchor="start" letter-spacing="2.15">antibodies at 180 dpv</text>
<text transform="translate(530.0,2239.1) rotate(-45)" font-size="66.3" font-weight="bold" text-anchor="end" letter-spacing="0.0">Vaccinated</text>
<text transform="translate(608.3,2108.8) rotate(-45)" font-size="47.5" text-anchor="end" letter-spacing="1.0">42dpv</text>
<text transform="translate(723.6,2262.4) rotate(-45)" font-size="66.3" font-weight="bold" text-anchor="end" letter-spacing="0.0">Vaccinated</text>
<text transform="translate(825.2,2108.8) rotate(-45)" font-size="47.5" text-anchor="end" letter-spacing="1.0">180dpv</text>
<text transform="translate(923.3,2279.5) rotate(-45)" font-size="66.3" font-weight="bold" text-anchor="end" letter-spacing="0.0">Vaccinated</text>
<text transform="translate(1042.1,2108.8) rotate(-45)" font-size="47.5" text-anchor="end" letter-spacing="1.0">exposed</text>
<text transform="translate(1284.3,2135.5) rotate(-45)" font-size="65.5" font-weight="bold" text-anchor="end" letter-spacing="0.0">Placebos</text>
<text transform="translate(1354.9,2281.7) rotate(-45)" font-size="65.5" font-weight="bold" text-anchor="end" letter-spacing="0.0">Placebos</text>
<text transform="translate(1475.9,2108.8) rotate(-45)" font-size="47.5" text-anchor="end" letter-spacing="1.0">exposed</text>
<text transform="translate(1718.1,2135.5) rotate(-45)" font-size="65.5" font-weight="bold" text-anchor="end" letter-spacing="0.0">Hybrids</text>
<text transform="translate(1935.0,2135.5) rotate(-45)" font-size="65.5" font-weight="bold" text-anchor="end" letter-spacing="0.0">Prepandemic</text>
</svg></body></html>
